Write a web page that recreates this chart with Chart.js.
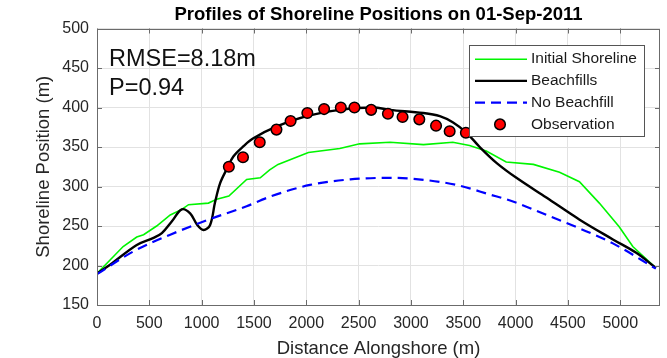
<!DOCTYPE html>
<html>
<head>
<meta charset="utf-8">
<script src="https://cdn.jsdelivr.net/npm/chart.js@4.4.1/dist/chart.umd.min.js"></script>
<style>
  html, body { margin: 0; padding: 0; background: #fff; }
  #graph { display: block; }
</style>
</head>
<body>
<canvas id="graph" width="667" height="358"></canvas>
<script>
// 読み取った値 (x: alongshore distance m, y: shoreline position m)
var initialX = [0, 125, 250, 380, 445, 570, 700, 810, 875, 1065, 1145, 1260, 1430, 1560, 1650, 1730, 2020, 2320, 2510, 2800, 3120, 3400, 3560, 3720, 3910, 4170, 4420, 4610, 4800, 4990, 5120, 5340];
var initialY = [190, 207, 224, 236, 239, 250, 264, 271, 277, 279, 284, 288, 309, 311, 321, 328, 343, 348, 354, 356, 353, 356, 352, 345, 331, 328, 318, 306, 279, 249, 224, 197];

var beachX = [0, 125, 380, 540, 620, 716, 810, 890, 955, 1017, 1080, 1128, 1176, 1240, 1303, 1400, 1494, 1718, 2004, 2321, 2640, 2800, 3117, 3276, 3403, 3531, 3657, 3817, 4008, 4294, 4612, 4930, 5153, 5340];
var beachY = [190, 201, 226, 235, 241, 256, 271, 266, 252, 245, 251, 280, 304, 322, 338, 351, 361, 376, 389, 397, 400, 397, 393, 389, 381, 368, 350, 330, 311, 286, 258, 233, 216, 197];

var noFillX = [0, 350, 700, 1065, 1430, 1650, 2035, 2420, 2800, 3120, 3435, 3750, 3975, 4295, 4610, 4930, 5340];
var noFillY = [189, 218, 239, 258, 275, 287, 302, 309, 311, 308.5, 302, 290, 281, 264, 247, 228, 196];

var obsX = [1260, 1395, 1555, 1715, 1850, 2010, 2170, 2330, 2460, 2620, 2780, 2920, 3080, 3240, 3370, 3525];
var obsY = [325, 337, 356, 372, 383, 393, 398, 400, 400, 397, 392, 388, 385, 377, 370, 368];

var seriesNames = ['Initial Shoreline', 'Beachfills', 'No Beachfill', 'Observation'];
var xTicks = [0, 500, 1000, 1500, 2000, 2500, 3000, 3500, 4000, 4500, 5000];
var yTicks = [150, 200, 250, 300, 350, 400, 450, 500];

var titleText = 'Profiles of Shoreline Positions on 01-Sep-2011';
var xTitle = 'Distance Alongshore (m)';
var yTitle = 'Shoreline Position (m)';
var statLines = ['RMSE=8.18m', 'P=0.94'];

var FONT = '"Liberation Sans", Arial, Helvetica, sans-serif';
var AXIS_GRAY = '#6b6b6b';

function toPoints(xs, ys) {
    var pts = [];
    for (var i = 0; i < xs.length; i++) {
        pts.push({ x: xs[i], y: ys[i] });
    }
    return pts;
}

// 枠・内向き目盛り・タイトル・注記・凡例を描く
var frame = {
    id: 'frame',
    afterDatasetsDraw: function(chart) {
        var ctx = chart.ctx;
        var a = chart.chartArea;
        var xs = chart.scales.x;
        var ys = chart.scales.y;
        ctx.save();

        ctx.strokeStyle = AXIS_GRAY;
        ctx.lineWidth = 1;
        ctx.strokeRect(Math.round(a.left) + 0.5, Math.round(a.top) + 0.5,
                       Math.round(a.right - a.left) - 1, Math.round(a.bottom - a.top) - 1);

        ctx.beginPath();
        xTicks.forEach(function(v) {
            var px = Math.round(xs.getPixelForValue(v)) + 0.5;
            ctx.moveTo(px, a.bottom); ctx.lineTo(px, a.bottom - 5);
            ctx.moveTo(px, a.top);    ctx.lineTo(px, a.top + 5);
        });
        yTicks.forEach(function(v) {
            var py = Math.round(ys.getPixelForValue(v)) + 0.5;
            ctx.moveTo(a.left, py);  ctx.lineTo(a.left + 5, py);
            ctx.moveTo(a.right, py); ctx.lineTo(a.right - 5, py);
        });
        ctx.stroke();

        // title
        ctx.fillStyle = '#000';
        ctx.font = 'bold 18.5px ' + FONT;
        ctx.textAlign = 'center';
        ctx.textBaseline = 'alphabetic';
        ctx.fillText(titleText, (a.left + a.right) / 2, 19.5);

        // RMSE / P
        ctx.font = '23.5px ' + FONT;
        ctx.textAlign = 'left';
        ctx.fillStyle = '#111';
        ctx.fillText(statLines[0], a.left + 12, 66);
        ctx.fillText(statLines[1], a.left + 12, 95);

        // legend
        var lx = 469.5, ly = 45.5, lw = 175, lh = 91;
        ctx.fillStyle = '#fff';
        ctx.fillRect(lx, ly, lw, lh);
        ctx.strokeStyle = '#555';
        ctx.lineWidth = 1;
        ctx.strokeRect(lx, ly, lw, lh);

        var rows = [59.2, 80.9, 102.6, 124.4];
        ctx.font = '15.5px ' + FONT;
        ctx.textBaseline = 'middle';
        chart.data.datasets.forEach(function(ds, i) {
            var y = rows[i];
            if (ds.showLine) {
                ctx.save();
                ctx.strokeStyle = ds.borderColor;
                ctx.lineWidth = ds.borderWidth;
                ctx.setLineDash(ds.borderDash || []);
                ctx.beginPath();
                ctx.moveTo(475, y);
                ctx.lineTo(527, y);
                ctx.stroke();
                ctx.restore();
            } else {
                ctx.beginPath();
                ctx.arc(500, y, ds.pointRadius, 0, Math.PI * 2);
                ctx.fillStyle = ds.backgroundColor;
                ctx.fill();
                ctx.lineWidth = ds.borderWidth;
                ctx.strokeStyle = ds.borderColor;
                ctx.stroke();
            }
            ctx.fillStyle = '#1a1a1a';
            ctx.fillText(ds.label, 531, y);
        });

        ctx.restore();
    }
};

var lineData = {
    datasets: [
        {
            label: seriesNames[0],
            data: toPoints(initialX, initialY),
            showLine: true,
            borderColor: 'rgb(0, 245, 0)',
            borderWidth: 1.6,
            pointRadius: 0,
            tension: 0,
            order: 3,
        },
        {
            label: seriesNames[1],
            data: toPoints(beachX, beachY),
            showLine: true,
            borderColor: '#000',
            borderWidth: 2.4,
            pointRadius: 0,
            tension: 0.35,
            order: 2,
        },
        {
            label: seriesNames[2],
            data: toPoints(noFillX, noFillY),
            showLine: true,
            borderColor: '#0000ff',
            borderWidth: 2.2,
            borderDash: [10, 6],
            pointRadius: 0,
            cubicInterpolationMode: 'monotone',
            order: 1,
        },
        {
            label: seriesNames[3],
            data: toPoints(obsX, obsY),
            showLine: false,
            backgroundColor: '#ff0000',
            borderColor: '#000',
            borderWidth: 1.5,
            pointRadius: 5.3,
            order: 0,
        },
    ]
};

var tickFont = { family: FONT, size: 16 };
var titleFont = { family: FONT, size: 18.5, lineHeight: 1 };

function plainLabel(value) {
    return String(value);
}

new Chart(document.getElementById('graph').getContext('2d'), {
    type: 'scatter',
    data: lineData,
    plugins: [frame],
    options: {
        responsive: false,
        devicePixelRatio: 1,
        animation: false,
        layout: { padding: { top: 28.5, right: 7, left: 0, bottom: 0 } },
        plugins: {
            legend: { display: false },
            title: { display: false },
            tooltip: { enabled: false },
        },
        scales: {
            x: {
                type: 'linear',
                min: 0,
                max: 5380,
                afterBuildTicks: function(axis) {
                    axis.ticks = xTicks.map(function(v) { return { value: v }; });
                },
                afterFit: function(axis) { axis.height = 53; },
                ticks: { font: tickFont, color: '#262626', padding: 9, maxRotation: 0, autoSkip: false, callback: plainLabel },
                grid: { color: '#e2e2e2', drawTicks: false },
                border: { display: false },
                title: { display: true, text: xTitle, font: titleFont, color: '#262626', padding: { top: 0, bottom: 0 } },
            },
            y: {
                min: 150,
                max: 500,
                afterBuildTicks: function(axis) {
                    axis.ticks = yTicks.map(function(v) { return { value: v }; });
                },
                afterFit: function(axis) { axis.width = 97; },
                ticks: { font: tickFont, color: '#262626', padding: 8, callback: plainLabel },
                grid: { color: '#e2e2e2', drawTicks: false },
                border: { display: false },
                title: { display: true, text: yTitle, font: titleFont, color: '#262626', padding: { top: 35, bottom: 0 } },
            },
        },
    },
});
</script>
</body>
</html>
